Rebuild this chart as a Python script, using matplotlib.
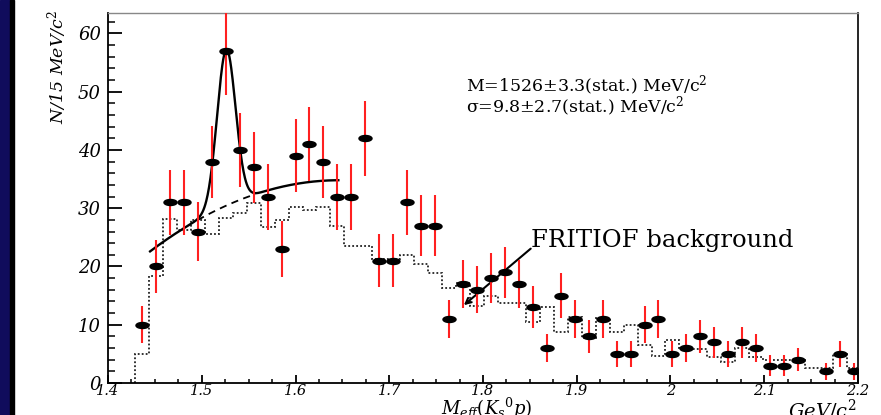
import numpy as np
import matplotlib.pyplot as plt
from matplotlib.path import Path
from matplotlib.transforms import Affine2D
from matplotlib.patches import Rectangle
from matplotlib.ticker import MultipleLocator

plt.rcParams['font.family'] = ['DejaVu Serif']
plt.rcParams['mathtext.fontset'] = 'dejavuserif'

# 15 MeV bins
bin_edges = np.linspace(1.4288, 2.2031, 53)

# data counts per bin
counts = [10, 20, 31, 31, 26, 38, 57, 40, 37, 32,
          23, 39, 41, 38, 32, 32, 42, 21, 21, 31,
          27, 27, 11, 17, 16, 18, 19, 17, 13, 6,
          15, 11, 8, 11, 5, 5, 10, 11, 5, 6,
          8, 7, 5, 7, 6, 3, 3, 4, 0, 2,
          5, 2]

# FRITIOF background histogram
fritiof = [5.0, 18.4, 28.2, 26.2, 28.0, 25.5, 28.3, 29.2, 30.9, 26.8,
           27.9, 30.2, 29.7, 30.2, 27.0, 23.5, 23.5, 21.3, 21.3, 21.9,
           20.5, 18.9, 16.3, 17.1, 13.2, 15.0, 13.8, 13.8, 10.5, 13.1,
           8.8, 11.4, 7.7, 11.1, 8.8, 9.9, 6.5, 4.6, 7.4, 6.0,
           5.8, 4.5, 3.6, 6.0, 4.5, 3.9, 3.9, 4.0, 2.5, 2.5,
           5.0, 2.5]

# fit: gaussian peak + smooth background
peak_mass = 1.5262
peak_sigma = 0.0098
peak_amp = 26.8
bg_x0 = 1.445
bg_coef = [22.6, 121.0, -300.0]
fit_range = (1.4449, 1.6457)
bg_dash_range = (1.4955, 1.557)

fit_text = ('M=1526\u00b13.3(stat.) MeV/c$^2$\n'
            '\u03c3=9.8\u00b12.7(stat.) MeV/c$^2$')

xticks = [1.4, 1.5, 1.6, 1.7, 1.8, 1.9, 2.0, 2.1, 2.2]
xticklabels = ['1.4', '1.5', '1.6', '1.7', '1.8', '1.9', '2', '2.1', '2.2']


def background(x):
    t = x - bg_x0
    return bg_coef[0] + bg_coef[1] * t + bg_coef[2] * t ** 2


def total(x):
    return background(x) + peak_amp * np.exp(-(x - peak_mass) ** 2 / (2 * peak_sigma ** 2))


fig = plt.figure(figsize=(8.81, 4.15), dpi=100)
fig.add_artist(Rectangle((0, 0), 10 / 881, 1, transform=fig.transFigure,
                         color='#100c5c', zorder=0))
fig.add_artist(Rectangle((10 / 881, 0), 3.5 / 881, 1, transform=fig.transFigure,
                         color='black', zorder=0))

ax = fig.add_axes([108 / 881, 32 / 415, 750 / 881, 370 / 415])
ax.set_xlim(1.4, 2.2)
ax.set_ylim(0, 63.5)

centers = 0.5 * (bin_edges[:-1] + bin_edges[1:])
counts_arr = np.array(counts, dtype=float)
keep = counts_arr > 0

# background histogram (dotted)
ax.stairs(fritiof, bin_edges, baseline=0, color='#222222', lw=1.3,
          linestyle=(0, (1, 1.2)), zorder=2)

# fit curves
xf = np.linspace(fit_range[0], fit_range[1], 400)
ax.plot(xf, total(xf), color='black', lw=1.7, zorder=3)
xb = np.linspace(bg_dash_range[0], bg_dash_range[1], 100)
ax.plot(xb, background(xb), color='black', lw=1.3, linestyle=(0, (4, 3)), zorder=3)

# data points
ax.errorbar(centers[keep], counts_arr[keep], yerr=np.sqrt(counts_arr[keep]),
            fmt='none', ecolor='#ff2020', elinewidth=1.5, zorder=4)
ellipse = Path.unit_circle().transformed(Affine2D().scale(1.0, 0.46))
ax.plot(centers[keep], counts_arr[keep], linestyle='none', marker=ellipse,
        markersize=9.4, color='black', zorder=5)

# annotations
ax.text(1.7814, 53.0, fit_text, fontsize=12.5, ha='left', va='top',
        linespacing=0.78)
ax.text(1.8509, 23.3, 'FRITIOF background', fontsize=17.5, ha='left', va='baseline')
ax.annotate('', xy=(1.7796, 13.36), xytext=(1.8509, 23.06),
            arrowprops=dict(arrowstyle='->', lw=1.5, color='black',
                            shrinkA=0, shrinkB=0))

# axes styling
for side in ['left', 'bottom']:
    ax.spines[side].set_linewidth(1.3)
    ax.spines[side].set_color('black')
ax.spines['right'].set_linewidth(1.2)
ax.spines['top'].set_color('#888888')
ax.spines['top'].set_linewidth(1.0)

ax.set_xticks(xticks)
ax.set_xticklabels(xticklabels)
ax.xaxis.set_minor_locator(MultipleLocator(0.025))
ax.yaxis.set_major_locator(MultipleLocator(10))
ax.yaxis.set_minor_locator(MultipleLocator(2))
ax.tick_params(which='both', direction='in', top=False, right=False)
ax.tick_params(axis='y', which='major', length=10, width=1.3, labelsize=13, pad=5)
ax.tick_params(axis='y', which='minor', length=5, width=1.1)
ax.tick_params(axis='x', which='major', length=6, width=1.3, labelsize=10.5, pad=0.8)
ax.tick_params(axis='x', which='minor', length=3, width=1.1)
for lbl in ax.get_xticklabels() + ax.get_yticklabels():
    lbl.set_fontstyle('italic')

fig.text(57 / 881, 1 - 10 / 415, 'N/15 MeV/c$^2$', rotation=90, ha='center',
         va='top', fontsize=12.5, style='italic')
fig.text(487 / 881, 0.5 / 415, r'$M_{eff}(K_{s}{}^{0}p)$', ha='center',
         va='baseline', fontsize=13)
fig.text(857 / 881, -2 / 415, r'$GeV/c^2$', ha='right', va='baseline', fontsize=14)

fig.savefig('out.png', dpi=100)
